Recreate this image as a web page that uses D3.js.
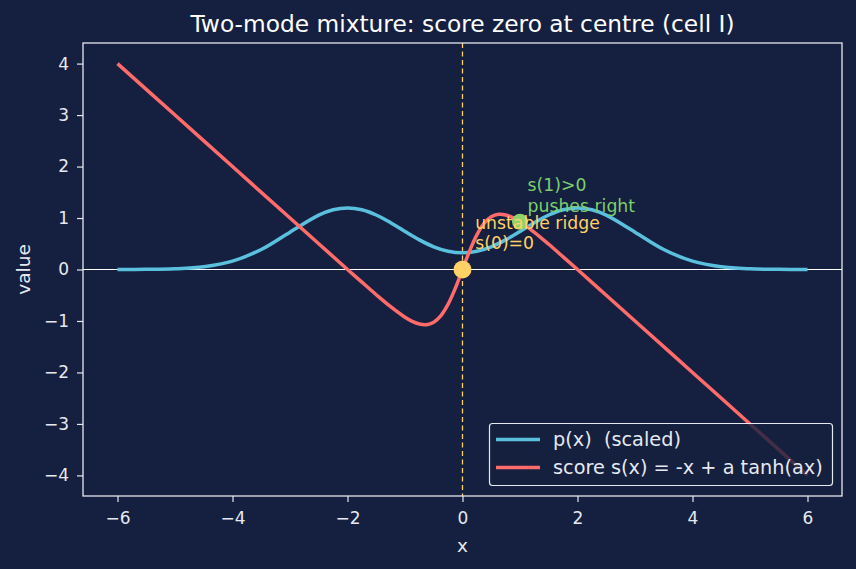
<!DOCTYPE html>
<html>
<head>
<meta charset="utf-8">
<script src="https://cdn.jsdelivr.net/npm/d3@7"></script>
<style>
  body { margin: 0; background: #151f3f; }
  svg { display: block; font-family: "DejaVu Sans", sans-serif; }
  text { white-space: pre; }
</style>
</head>
<body>
<div id="holder"></div>
<script>
// density of the two-mode mixture (scaled)
const densX = [-6, -5.5, -5, -4.5, -4, -3.5, -3, -2.5, -2.25, -2, -1.75, -1.5, -1.25, -1, -0.75, -0.5, -0.25,
               0, 0.25, 0.5, 0.75, 1, 1.25, 1.5, 1.75, 2, 2.25, 2.5, 3, 3.5, 4, 4.5, 5, 5.5, 6];
const densY = [0.0004, 0.0026, 0.0133, 0.0526, 0.162, 0.389, 0.726, 1.056, 1.160, 1.197, 1.161, 1.059, 0.910, 0.739, 0.575, 0.441, 0.354,
               0.324, 0.354, 0.441, 0.575, 0.739, 0.910, 1.059, 1.161, 1.197, 1.160, 1.056, 0.726, 0.389, 0.162, 0.0526, 0.0133, 0.0026, 0.0004];

// score curve
const scoreX = [-6, -5, -4, -3, -2.5, -2, -1.75, -1.5, -1.25, -1, -0.875, -0.75, -0.625, -0.5, -0.375, -0.25, -0.125,
                0, 0.125, 0.25, 0.375, 0.5, 0.625, 0.75, 0.875, 1, 1.25, 1.5, 1.75, 2, 2.5, 3, 4, 5, 6];
const scoreY = [4, 3, 2, 1, 0.500, 0.001, -0.246, -0.490, -0.723, -0.928, -1.008, -1.060, -1.072, -1.023, -0.895, -0.674, -0.365,
                0, 0.365, 0.674, 0.895, 1.023, 1.072, 1.060, 1.008, 0.928, 0.723, 0.490, 0.246, -0.001, -0.500, -1, -2, -3, -4];

const xTicks = [-6, -4, -2, 0, 2, 4, 6];
const yTicks = [-4, -3, -2, -1, 0, 1, 2, 3, 4];

const width = 856, height = 569;
const margin = { left: 83, right: 14, top: 43, bottom: 73 };
const fg = "#e6e9f0";

const svg = d3.select("#holder").append("svg")
    .attr("width", width)
    .attr("height", height);

svg.append("rect").attr("width", width).attr("height", height).attr("fill", "#151f3f");

const xScale = d3.scaleLinear().domain([-6.6, 6.6]).range([margin.left, width - margin.right]);
const yScale = d3.scaleLinear().domain([-4.4, 4.4]).range([height - margin.bottom, margin.top]);

svg.append("clipPath").attr("id", "plot")
    .append("rect")
    .attr("x", margin.left).attr("y", margin.top)
    .attr("width", width - margin.left - margin.right)
    .attr("height", height - margin.top - margin.bottom);

const plot = svg.append("g").attr("clip-path", "url(#plot)");

// zero line and centre marker
plot.append("line")
    .attr("x1", margin.left).attr("x2", width - margin.right)
    .attr("y1", yScale(0)).attr("y2", yScale(0))
    .attr("stroke", "#ffffff").attr("stroke-width", 1.2);

plot.append("line")
    .attr("x1", xScale(0)).attr("x2", xScale(0))
    .attr("y1", margin.top).attr("y2", height - margin.bottom)
    .attr("stroke", "#ffd166").attr("stroke-width", 1.3)
    .attr("stroke-dasharray", "5,3.5");

const line = d3.line()
    .x(d => xScale(d[0]))
    .y(d => yScale(d[1]))
    .curve(d3.curveCatmullRom);

plot.append("path")
    .datum(d3.zip(densX, densY))
    .attr("d", line)
    .attr("fill", "none")
    .attr("stroke", "#5bc0de")
    .attr("stroke-width", 3.5);

plot.append("path")
    .datum(d3.zip(scoreX, scoreY))
    .attr("d", line)
    .attr("fill", "none")
    .attr("stroke", "#ff6b6b")
    .attr("stroke-width", 3.5);

// points
plot.append("circle")
    .attr("cx", xScale(0)).attr("cy", yScale(0)).attr("r", 9)
    .attr("fill", "#ffd166");
plot.append("circle")
    .attr("cx", xScale(1)).attr("cy", yScale(0.928)).attr("r", 8)
    .attr("fill", "#8fd46a");

// annotations
const ann1 = svg.append("text")
    .attr("fill", "#ffd166").attr("font-size", 17.3);
ann1.append("tspan").attr("x", xScale(0.22)).attr("y", yScale(0.79)).text("unstable ridge");
ann1.append("tspan").attr("x", xScale(0.22)).attr("y", yScale(0.39)).text("s(0)=0");

const ann2 = svg.append("text")
    .attr("fill", "#7ccf6c").attr("font-size", 17.3);
ann2.append("tspan").attr("x", xScale(1.13)).attr("y", yScale(1.53)).text("s(1)>0");
ann2.append("tspan").attr("x", xScale(1.13)).attr("y", yScale(1.11)).text("pushes right");

// axes
const minus = d => d < 0 ? "\u2212" + Math.abs(d) : d;
const xAxis = d3.axisBottom(xScale).tickValues(xTicks).tickSize(6).tickPadding(10).tickFormat(minus);
const yAxis = d3.axisLeft(yScale).tickValues(yTicks).tickSize(6).tickPadding(8).tickFormat(minus);

const gx = svg.append("g")
    .attr("transform", `translate(0, ${height - margin.bottom})`)
    .call(xAxis);
const gy = svg.append("g")
    .attr("transform", `translate(${margin.left}, 0)`)
    .call(yAxis);

[gx, gy].forEach(g => {
    g.select(".domain").remove();
    g.selectAll("line").attr("stroke", fg).attr("stroke-width", 1.2);
    g.selectAll("text").attr("fill", fg).attr("font-size", 17).attr("font-family", "DejaVu Sans");
});

svg.append("rect")
    .attr("x", margin.left).attr("y", margin.top)
    .attr("width", width - margin.left - margin.right)
    .attr("height", height - margin.top - margin.bottom)
    .attr("fill", "none").attr("stroke", fg).attr("stroke-width", 1.3);

// labels
svg.append("text")
    .attr("x", xScale(0)).attr("y", 552)
    .attr("text-anchor", "middle").attr("fill", fg).attr("font-size", 18.5)
    .text("x");
svg.append("text")
    .attr("transform", `translate(30, ${yScale(0)}) rotate(-90)`)
    .attr("text-anchor", "middle").attr("fill", fg).attr("font-size", 18.5)
    .text("value");
svg.append("text")
    .attr("x", xScale(0)).attr("y", 32)
    .attr("text-anchor", "middle").attr("fill", "#ffffff").attr("font-size", 23.3)
    .text("Two-mode mixture: score zero at centre (cell I)");

// legend
const legend = svg.append("g");
legend.append("rect")
    .attr("x", 489.5).attr("y", 423.5).attr("width", 343).attr("height", 62).attr("rx", 3)
    .attr("fill", "#151f3f").attr("fill-opacity", 0.8)
    .attr("stroke", fg).attr("stroke-width", 1.2);
const items = [["p(x)  (scaled)", "#5bc0de"], ["score s(x) = -x + a tanh(ax)", "#ff6b6b"]];
items.forEach((it, i) => {
    const y = 439.5 + i * 28;
    legend.append("line")
        .attr("x1", 496).attr("x2", 540).attr("y1", y).attr("y2", y)
        .attr("stroke", it[1]).attr("stroke-width", 3.5);
    legend.append("text")
        .attr("x", 553).attr("y", y + 6)
        .attr("fill", fg).attr("font-size", 19.3)
        .text(it[0]);
});
</script>
</body>
</html>
